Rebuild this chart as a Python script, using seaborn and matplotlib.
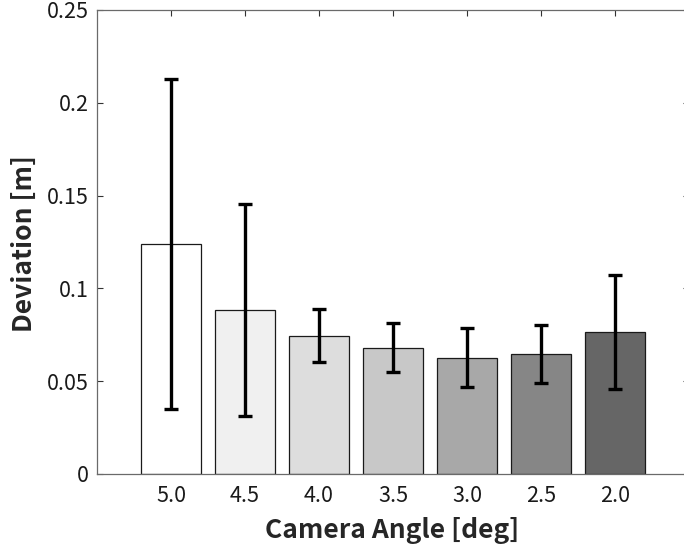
import numpy as np
import pandas as pd
import matplotlib
matplotlib.use("Agg")
import matplotlib.pyplot as plt
import seaborn as sns

angles = ["5.0", "4.5", "4.0", "3.5", "3.0", "2.5", "2.0"]
means = [0.1240, 0.0884, 0.0745, 0.0681, 0.0627, 0.0645, 0.0763]
errors = [0.0890, 0.0570, 0.0144, 0.0134, 0.0159, 0.0156, 0.0307]
bar_colors = ["#ffffff", "#f0f0f0", "#dddddd", "#c8c8c8", "#a8a8a8", "#868686", "#666666"]
yticks = [0, 0.05, 0.1, 0.15, 0.2, 0.25]
ytick_labels = ["0", "0.05", "0.1", "0.15", "0.2", "0.25"]

sns.set_theme(style="white")
plt.rcParams["font.family"] = ["Noto Sans CJK JP", "DejaVu Sans"]

df = pd.DataFrame({"angle": angles, "dev": means})

fig = plt.figure(figsize=(6.84, 5.49), dpi=100)
W, H = 684, 549
ax = fig.add_axes([97 / W, (H - 474) / H, (689 - 97) / W, 464 / H])

sns.barplot(data=df, x="angle", y="dev", hue="angle", order=angles,
            hue_order=angles, palette=bar_colors, legend=False, width=0.8,
            edgecolor="#1a1a1a", linewidth=0.9, saturation=1, ax=ax, errorbar=None)

ax.errorbar(np.arange(len(angles)), means, yerr=errors, fmt="none",
            ecolor="black", elinewidth=2.4, capsize=5, capthick=2.4, zorder=5)

ax.set_xlim(-1, 7)
ax.set_ylim(0, 0.25)
ax.set_yticks(yticks)
ax.set_yticklabels(ytick_labels)
ax.set_xticks(np.arange(len(angles)))
ax.set_xticklabels(angles)

for s in ax.spines.values():
    s.set_color("#6a6a6a")
    s.set_linewidth(0.9)
ax.tick_params(axis="both", which="both", direction="in", length=4.5, width=0.8,
               color="#333333", labelsize=15.5, labelcolor="#1a1a1a",
               top=True, right=True, bottom=True, left=True, pad=6)
ax.tick_params(axis="x", pad=8)

ax.set_xlabel("Camera Angle [deg]", fontsize=19, fontweight="bold", color="#262626")
ax.set_ylabel("Deviation [m]", fontsize=19, fontweight="bold", color="#262626")
ax.xaxis.set_label_coords((392 - 97) / (689 - 97), -0.092)
ax.yaxis.set_label_coords((38 - 97) / (689 - 97), (474 - 243) / 464)

fig.savefig("out.png", dpi=100)
